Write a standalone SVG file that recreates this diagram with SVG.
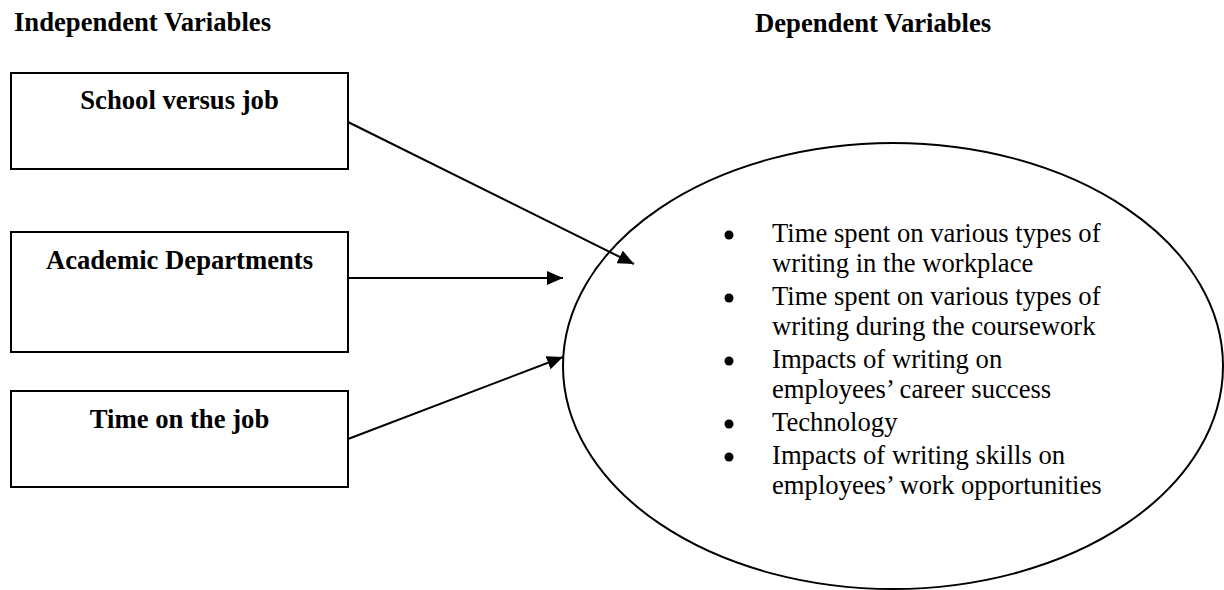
<svg xmlns="http://www.w3.org/2000/svg" width="1224" height="590" viewBox="0 0 1224 590">
<style>
.box{fill:#fff;stroke:#000;stroke-width:2}
.hd{font-family:"Liberation Serif","Times New Roman",serif;font-weight:bold;font-size:26.67px;fill:#000}
.lbl{font-family:"Liberation Serif","Times New Roman",serif;font-weight:bold;font-size:26.67px;fill:#000;text-anchor:middle}
.txt{font-family:"Liberation Serif","Times New Roman",serif;font-size:26.67px;fill:#000}
.con{stroke:#000;stroke-width:2;fill:none}
</style>
<defs>
<marker id="arr" markerWidth="16" markerHeight="14" refX="16" refY="7" orient="auto" markerUnits="userSpaceOnUse">
<path d="M0,0 L16,7 L0,14 z" fill="#000"/>
</marker>
</defs>
<rect width="1224" height="590" fill="#fff"/>
<g id="headings">
<text class="hd" x="14" y="31">Independent Variables</text>
<text class="hd" x="755" y="32">Dependent Variables</text>
</g>
<g id="node-school">
<rect class="box" x="11" y="73" width="337" height="96"/>
<text class="lbl" x="179.5" y="109">School versus job</text>
</g>
<g id="node-academic">
<rect class="box" x="11" y="232" width="337" height="120"/>
<text class="lbl" x="179.5" y="269">Academic Departments</text>
</g>
<g id="node-time">
<rect class="box" x="11" y="391" width="337" height="96"/>
<text class="lbl" x="179.5" y="428">Time on the job</text>
</g>
<g id="node-dependent">
<ellipse cx="893" cy="366" rx="330" ry="223" fill="none" stroke="#000" stroke-width="2"/>
<g fill="#000">
<circle cx="729" cy="235" r="4.5"/>
<circle cx="729" cy="298" r="4.5"/>
<circle cx="729" cy="361" r="4.5"/>
<circle cx="729" cy="424" r="4.5"/>
<circle cx="729" cy="457" r="4.5"/>
</g>
<text class="txt" x="772" y="242">Time spent on various types of</text>
<text class="txt" x="772" y="272">writing in the workplace</text>
<text class="txt" x="772" y="305">Time spent on various types of</text>
<text class="txt" x="772" y="335">writing during the coursework</text>
<text class="txt" x="772" y="368">Impacts of writing on</text>
<text class="txt" x="772" y="398">employees’ career success</text>
<text class="txt" x="772" y="431">Technology</text>
<text class="txt" x="772" y="464">Impacts of writing skills on</text>
<text class="txt" x="772" y="494">employees’ work opportunities</text>
</g>
<g id="connectors">
<line class="con" x1="348" y1="122" x2="634" y2="264" marker-end="url(#arr)"/>
<line class="con" x1="348" y1="278" x2="563" y2="278" marker-end="url(#arr)"/>
<line class="con" x1="348" y1="439" x2="563" y2="357" marker-end="url(#arr)"/>
</g>
</svg>
